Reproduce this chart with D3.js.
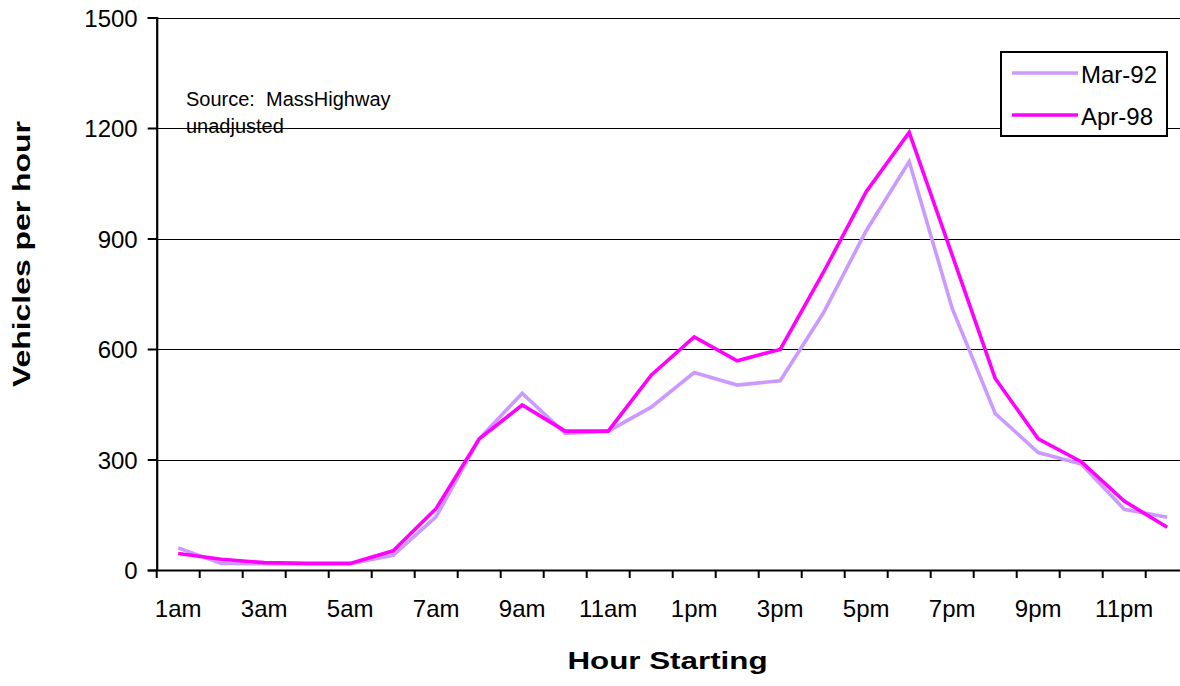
<!DOCTYPE html>
<html>
<head>
<meta charset="utf-8">
<script src="https://cdn.jsdelivr.net/npm/d3@7"></script>
<style>
  html, body { margin: 0; padding: 0; background: #fff; }
  svg { display: block; font-family: Arial, "Liberation Sans", sans-serif; }
</style>
</head>
<body>
<svg id="chart" width="1180" height="686"></svg>
<script>
const hours = ["1am","2am","3am","4am","5am","6am","7am","8am","9am","10am","11am","12pm",
               "1pm","2pm","3pm","4pm","5pm","6pm","7pm","8pm","9pm","10pm","11pm","12am"];
const tickLabels = ["1am","3am","5am","7am","9am","11am","1pm","3pm","5pm","7pm","9pm","11pm"];
const yTicks = [0, 300, 600, 900, 1200, 1500];
const seriesNames = ["Mar-92", "Apr-98"];
const mar92 = [60, 18, 17, 17, 17, 40, 145, 356, 480, 371, 377, 442, 536, 502, 514, 697, 921, 1109, 710, 425, 319, 288, 165, 143];
const apr98 = [45, 29, 20, 18, 18, 52, 167, 356, 448, 377, 377, 529, 633, 568, 599, 807, 1027, 1188, 855, 520, 356, 294, 187, 116];
const colors = ["#CC99FF", "#FF00FF"];

const svg = d3.select("#chart");
const x0 = 156.7, x1 = 1188.7, yTop = 17.5, yBot = 570;

const x = d3.scaleBand().domain(hours).range([x0, x1]).padding(0);
const y = d3.scaleLinear().domain([0, 1500]).range([yBot, yTop]);

// gridlines
svg.append("g").selectAll("line").data(yTicks.filter(d => d > 0)).join("line")
  .attr("x1", x0).attr("x2", x1)
  .attr("y1", d => Math.round(y(d)) + 0.5).attr("y2", d => Math.round(y(d)) + 0.5)
  .attr("stroke", "#000").attr("stroke-width", 1);

// y axis
const yAxis = svg.append("g").attr("transform", `translate(${x0},0)`)
  .call(d3.axisLeft(y).tickValues(yTicks).tickSize(9).tickPadding(10).tickFormat(d3.format("d")));
yAxis.select(".domain").attr("stroke", "#000").attr("stroke-width", 2.2);
yAxis.selectAll(".tick line").attr("stroke", "#000").attr("stroke-width", 2);
yAxis.selectAll(".tick text").attr("font-size", 24).attr("fill", "#000")
  .attr("font-family", "Arial, 'Liberation Sans', sans-serif").attr("dy", "0.36em");

// x axis
const xAxis = svg.append("g").attr("transform", `translate(0,${yBot})`)
  .call(d3.axisBottom(x).tickValues(tickLabels).tickSize(0).tickPadding(30));
xAxis.select(".domain").attr("stroke", "#000").attr("stroke-width", 2.2);
xAxis.selectAll(".tick text").attr("font-size", 24).attr("fill", "#000")
  .attr("font-family", "Arial, 'Liberation Sans', sans-serif");
// boundary ticks
xAxis.append("g").selectAll("line").data(d3.range(hours.length + 1)).join("line")
  .attr("x1", i => x0 + i * x.step()).attr("x2", i => x0 + i * x.step())
  .attr("y1", 0).attr("y2", 8)
  .attr("stroke", "#000").attr("stroke-width", 2);

// lines
const line = d3.line().x((d, i) => x(hours[i]) + x.bandwidth() / 2).y(d => y(d));
[mar92, apr98].forEach((s, k) => {
  svg.append("path").datum(s).attr("d", line)
    .attr("fill", "none").attr("stroke", colors[k]).attr("stroke-width", 3.6)
    .attr("stroke-linejoin", "miter");
});

// source text
svg.append("text").attr("x", 186).attr("y", 106).attr("font-size", 20).attr("fill", "#000")
  .attr("xml:space", "preserve").text("Source:  MassHighway");
svg.append("text").attr("x", 186).attr("y", 133).attr("font-size", 20).attr("fill", "#000")
  .text("unadjusted");

// legend
const lg = svg.append("g");
lg.append("rect").attr("x", 1001).attr("y", 52).attr("width", 166).attr("height", 84)
  .attr("fill", "#fff").attr("stroke", "#000").attr("stroke-width", 2);
seriesNames.forEach((n, k) => {
  const ly = 73 + k * 42;
  lg.append("line").attr("x1", 1012).attr("x2", 1078).attr("y1", ly).attr("y2", ly)
    .attr("stroke", colors[k]).attr("stroke-width", 3.6);
  lg.append("text").attr("x", 1081).attr("y", ly + 10).attr("font-size", 24).attr("fill", "#000").text(n);
});

// axis titles
svg.append("text").attr("x", 667.5).attr("y", 669).attr("text-anchor", "middle")
  .attr("font-size", 24).attr("font-weight", "bold").attr("fill", "#000")
  .attr("textLength", 200).attr("lengthAdjust", "spacingAndGlyphs").text("Hour Starting");
svg.append("text").attr("transform", "translate(29.5,254) rotate(-90)").attr("text-anchor", "middle")
  .attr("font-size", 24).attr("font-weight", "bold").attr("fill", "#000")
  .attr("textLength", 266).attr("lengthAdjust", "spacingAndGlyphs").text("Vehicles per hour");
</script>
</body>
</html>
